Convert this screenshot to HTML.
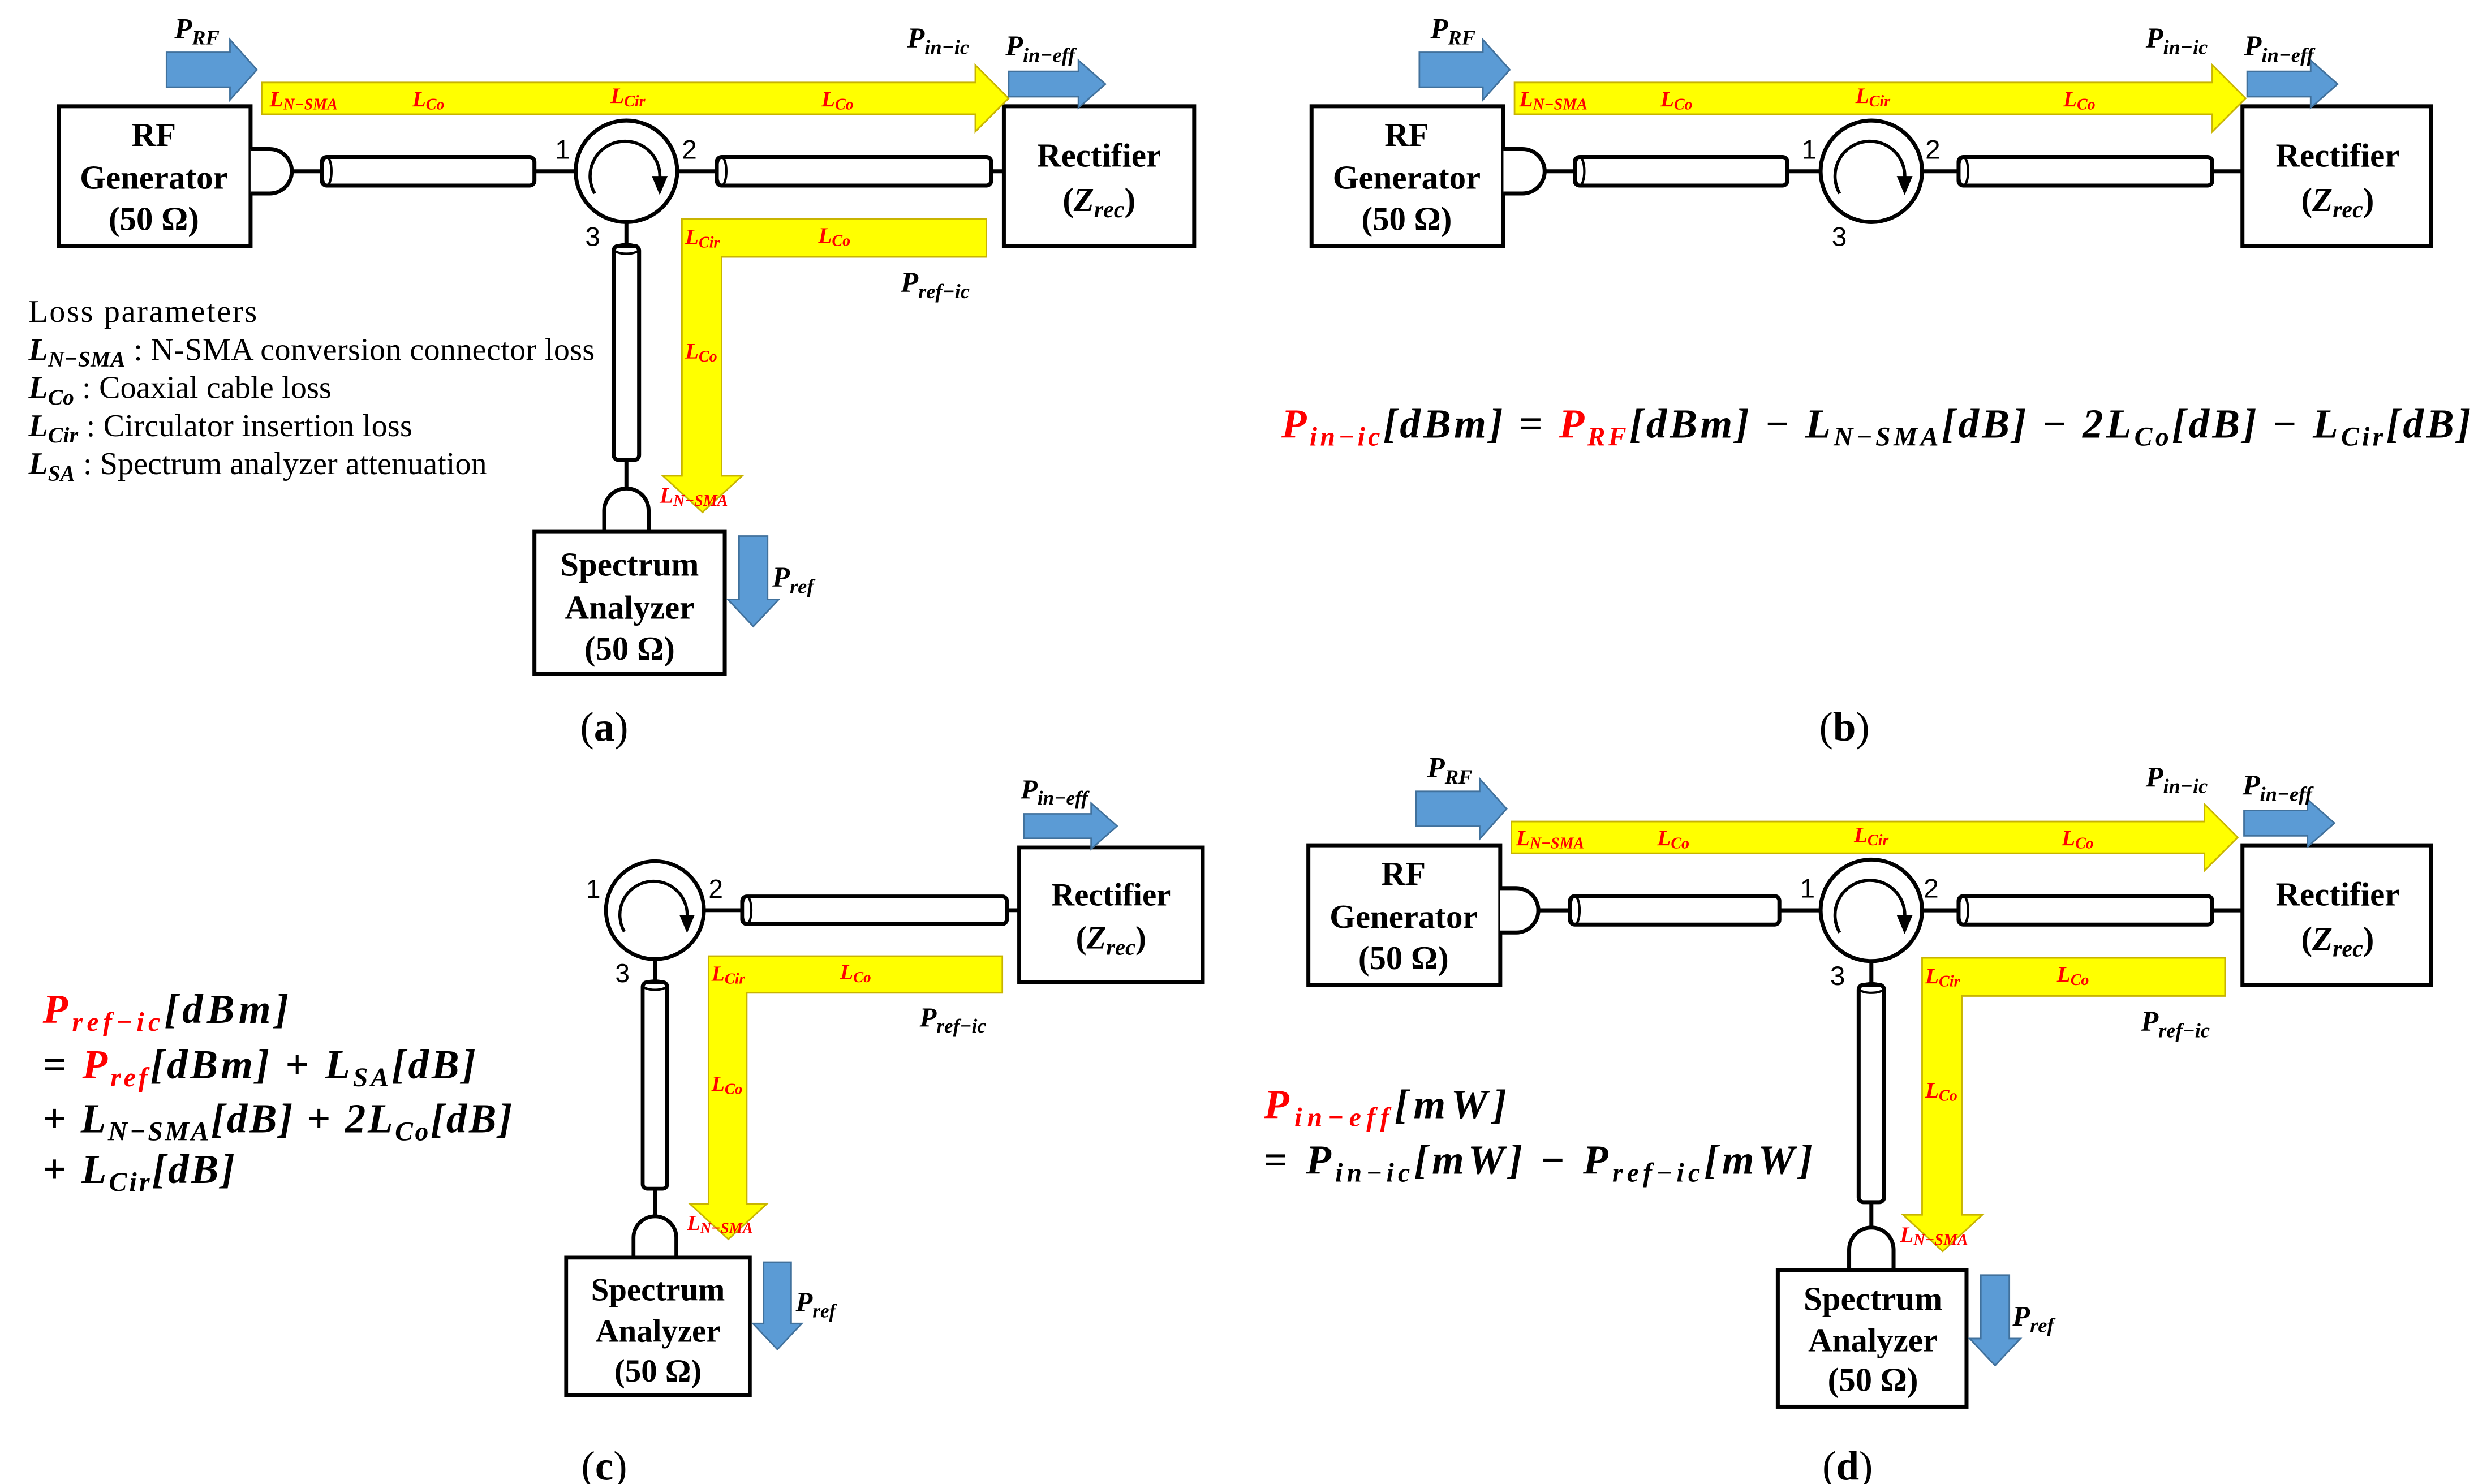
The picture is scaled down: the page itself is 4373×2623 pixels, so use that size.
<!DOCTYPE html>
<html><head><meta charset="utf-8"><style>
html,body{margin:0;padding:0;background:#fff;}
svg{display:block}
text{font-family:"Liberation Serif",serif;}
.bx{font-size:21px;font-weight:bold;text-anchor:middle}
.lb{font-size:14px;font-weight:bold;font-style:italic;fill:#ff0000}
.pl{font-size:18px;font-weight:bold;font-style:italic}
.num{font-family:"Liberation Sans",sans-serif;font-size:17px}
.eq{font-size:26px;font-weight:bold;font-style:italic}
.up{font-style:normal}
.r{fill:#ff0000}
.lp{font-size:20px}
.cap{font-size:26px;text-anchor:middle}
</style></head><body>
<svg width="4373" height="2623" viewBox="0 0 1560 935.7" xmlns="http://www.w3.org/2000/svg">
<rect x="0" y="0" width="1560" height="936" fill="#fff"/>

<!-- ================= (a) ================= -->
<g id="pa">
 <rect x="37" y="67" width="121" height="88" fill="#fff" stroke="#000" stroke-width="2.5"/>
 <text class="bx" x="97" y="92">RF</text>
 <text class="bx" x="97" y="119">Generator</text>
 <text class="bx" x="97" y="145">(50 Ω)</text>
 <path d="M158,94 h12 a14 14 0 0 1 0 28 h-12" fill="#fff" stroke="#000" stroke-width="2.5"/>
 <line x1="184" y1="108" x2="203" y2="108" stroke="#000" stroke-width="2.5"/>
 <rect x="203" y="99" width="134" height="18" rx="3" fill="#fff" stroke="#000" stroke-width="2.5"/>
 <ellipse cx="206" cy="108" rx="3" ry="9" fill="none" stroke="#000" stroke-width="1.5"/>
 <line x1="337" y1="108" x2="363" y2="108" stroke="#000" stroke-width="2.5"/>
 <circle cx="395" cy="108" r="32" fill="#fff" stroke="#000" stroke-width="2.5"/>
 <path d="M375,122 A22 22 0 1 1 416,113" fill="none" stroke="#000" stroke-width="2"/>
 <polygon points="411,111 421,111 416,123" fill="#000"/>
 <line x1="427" y1="108" x2="452" y2="108" stroke="#000" stroke-width="2.5"/>
 <rect x="452" y="99" width="173" height="18" rx="3" fill="#fff" stroke="#000" stroke-width="2.5"/>
 <ellipse cx="455" cy="108" rx="3" ry="9" fill="none" stroke="#000" stroke-width="1.5"/>
 <line x1="625" y1="108" x2="633" y2="108" stroke="#000" stroke-width="2.5"/>
 <rect x="633" y="67" width="120" height="88" fill="#fff" stroke="#000" stroke-width="2.5"/>
 <text class="bx" x="693" y="105">Rectifier</text>
 <text class="bx" x="693" y="133">(<tspan font-style="italic">Z<tspan font-size="15" dy="4">rec</tspan></tspan><tspan dy="-4">)</tspan></text>
 <text class="num" x="350" y="100">1</text>
 <text class="num" x="430" y="100">2</text>
 <text class="num" x="369" y="155">3</text>
 <line x1="395" y1="140" x2="395" y2="155" stroke="#000" stroke-width="2.5"/>
 <rect x="387" y="155" width="16" height="135" rx="3" fill="#fff" stroke="#000" stroke-width="2.5"/>
 <ellipse cx="395" cy="157" rx="8" ry="3" fill="none" stroke="#000" stroke-width="1.5"/>
 <line x1="395" y1="290" x2="395" y2="308" stroke="#000" stroke-width="2.5"/>
 <path d="M381,335 V322 a14 14 0 0 1 28 0 V335" fill="#fff" stroke="#000" stroke-width="2.5"/>
 <rect x="337" y="335" width="120" height="90" fill="#fff" stroke="#000" stroke-width="2.5"/>
 <text class="bx" x="397" y="363">Spectrum</text>
 <text class="bx" x="397" y="390">Analyzer</text>
 <text class="bx" x="397" y="416">(50 Ω)</text>
 <polygon points="165,52 615,52 615,41 636,62 615,83 615,72 165,72" fill="#ffff00" stroke="#c8b400" stroke-width="1"/>
 <polygon points="430,138 622,138 622,162 455,162 455,300 468,300 443,323 418,300 430,300" fill="#ffff00" stroke="#c8b400" stroke-width="1"/>
 <text class="lb" x="170" y="67">L<tspan font-size="10" dy="2">N−SMA</tspan></text>
 <text class="lb" x="260" y="67">L<tspan font-size="10" dy="2">Co</tspan></text>
 <text class="lb" x="385" y="65">L<tspan font-size="10" dy="2">Cir</tspan></text>
 <text class="lb" x="518" y="67">L<tspan font-size="10" dy="2">Co</tspan></text>
 <text class="lb" x="432" y="154">L<tspan font-size="10" dy="2">Cir</tspan></text>
 <text class="lb" x="516" y="153">L<tspan font-size="10" dy="2">Co</tspan></text>
 <text class="lb" x="432" y="226">L<tspan font-size="10" dy="2">Co</tspan></text>
 <text class="lb" x="416" y="317">L<tspan font-size="10" dy="2">N−SMA</tspan></text>
 <polygon points="105,33 145,33 145,25 162,44 145,63 145,55 105,55" fill="#5b9bd5" stroke="#41719c" stroke-width="1"/>
 <polygon points="636,45 680,45 680,38 697,53 680,68 680,61 636,61" fill="#5b9bd5" stroke="#41719c" stroke-width="1"/>
 <polygon points="466,338 484,338 484,378 491,378 475,395 459,378 466,378" fill="#5b9bd5" stroke="#41719c" stroke-width="1"/>
 <text class="pl" x="110" y="24">P<tspan font-size="13" dy="4">RF</tspan></text>
 <text class="pl" x="572" y="30">P<tspan font-size="13" dy="4">in−ic</tspan></text>
 <text class="pl" x="634" y="35">P<tspan font-size="13" dy="4">in−eff</tspan></text>
 <text class="pl" x="568" y="184">P<tspan font-size="13" dy="4">ref−ic</tspan></text>
 <text class="pl" x="487" y="370">P<tspan font-size="13" dy="4">ref</tspan></text>
 <text class="lp" x="18" y="203" textLength="144">Loss parameters</text>
 <text class="lp" x="18" y="227" textLength="357"><tspan font-weight="bold" font-style="italic">L<tspan font-size="14" dy="4">N−SMA</tspan></tspan><tspan dy="-4"> : N-SMA conversion connector loss</tspan></text>
 <text class="lp" x="18" y="251" textLength="191"><tspan font-weight="bold" font-style="italic">L<tspan font-size="14" dy="4">Co</tspan></tspan><tspan dy="-4"> : Coaxial cable loss</tspan></text>
 <text class="lp" x="18" y="275" textLength="242"><tspan font-weight="bold" font-style="italic">L<tspan font-size="14" dy="4">Cir</tspan></tspan><tspan dy="-4"> : Circulator insertion loss</tspan></text>
 <text class="lp" x="18" y="299" textLength="289"><tspan font-weight="bold" font-style="italic">L<tspan font-size="14" dy="4">SA</tspan></tspan><tspan dy="-4"> : Spectrum analyzer attenuation</tspan></text>
 <text class="cap" x="381" y="467">(<tspan font-weight="bold">a</tspan>)</text>
</g>

<!-- ================= (b) ================= -->
<g transform="translate(790,0)">
 <rect x="37" y="67" width="121" height="88" fill="#fff" stroke="#000" stroke-width="2.5"/>
 <text class="bx" x="97" y="92">RF</text>
 <text class="bx" x="97" y="119">Generator</text>
 <text class="bx" x="97" y="145">(50 Ω)</text>
 <path d="M158,94 h12 a14 14 0 0 1 0 28 h-12" fill="#fff" stroke="#000" stroke-width="2.5"/>
 <line x1="184" y1="108" x2="203" y2="108" stroke="#000" stroke-width="2.5"/>
 <rect x="203" y="99" width="134" height="18" rx="3" fill="#fff" stroke="#000" stroke-width="2.5"/>
 <ellipse cx="206" cy="108" rx="3" ry="9" fill="none" stroke="#000" stroke-width="1.5"/>
 <line x1="337" y1="108" x2="358" y2="108" stroke="#000" stroke-width="2.5"/>
 <circle cx="390" cy="108" r="32" fill="#fff" stroke="#000" stroke-width="2.5"/>
 <path d="M370,122 A22 22 0 1 1 411,113" fill="none" stroke="#000" stroke-width="2"/>
 <polygon points="406,111 416,111 411,123" fill="#000"/>
 <line x1="422" y1="108" x2="445" y2="108" stroke="#000" stroke-width="2.5"/>
 <rect x="445" y="99" width="160" height="18" rx="3" fill="#fff" stroke="#000" stroke-width="2.5"/>
 <ellipse cx="448" cy="108" rx="3" ry="9" fill="none" stroke="#000" stroke-width="1.5"/>
 <line x1="605" y1="108" x2="624" y2="108" stroke="#000" stroke-width="2.5"/>
 <rect x="624" y="67" width="119" height="88" fill="#fff" stroke="#000" stroke-width="2.5"/>
 <text class="bx" x="684" y="105">Rectifier</text>
 <text class="bx" x="684" y="133">(<tspan font-style="italic">Z<tspan font-size="15" dy="4">rec</tspan></tspan><tspan dy="-4">)</tspan></text>
 <text class="num" x="346" y="100">1</text>
 <text class="num" x="424" y="100">2</text>
 <text class="num" x="365" y="155">3</text>
 <polygon points="165,52 605,52 605,41 626,62 605,83 605,72 165,72" fill="#ffff00" stroke="#c8b400" stroke-width="1"/>
 <text class="lb" x="168" y="67">L<tspan font-size="10" dy="2">N−SMA</tspan></text>
 <text class="lb" x="257" y="67">L<tspan font-size="10" dy="2">Co</tspan></text>
 <text class="lb" x="380" y="65">L<tspan font-size="10" dy="2">Cir</tspan></text>
 <text class="lb" x="511" y="67">L<tspan font-size="10" dy="2">Co</tspan></text>
 <polygon points="105,33 145,33 145,25 162,44 145,63 145,55 105,55" fill="#5b9bd5" stroke="#41719c" stroke-width="1"/>
 <polygon points="627,45 667,45 667,38 684,53 667,68 667,61 627,61" fill="#5b9bd5" stroke="#41719c" stroke-width="1"/>
 <text class="pl" x="112" y="24">P<tspan font-size="13" dy="4">RF</tspan></text>
 <text class="pl" x="563" y="30">P<tspan font-size="13" dy="4">in−ic</tspan></text>
 <text class="pl" x="625" y="35">P<tspan font-size="13" dy="4">in−eff</tspan></text>
 <text class="cap" x="373" y="467">(<tspan font-weight="bold">b</tspan>)</text>
</g>
<text class="eq" x="808" y="276" textLength="750"><tspan class="r">P<tspan font-size="17" dy="5">in−ic</tspan></tspan><tspan dy="-5">[dBm] </tspan><tspan class="up">= </tspan><tspan class="r">P<tspan font-size="17" dy="5">RF</tspan></tspan><tspan dy="-5">[dBm] </tspan><tspan class="up">− </tspan>L<tspan font-size="17" dy="5">N−SMA</tspan><tspan dy="-5">[dB] </tspan><tspan class="up">− </tspan>2L<tspan font-size="17" dy="5">Co</tspan><tspan dy="-5">[dB] </tspan><tspan class="up">− </tspan>L<tspan font-size="17" dy="5">Cir</tspan><tspan dy="-5">[dB]</tspan></text>

<!-- ================= (c) ================= -->
<g transform="translate(31.8,469.7) scale(0.965)">
 <circle cx="395" cy="108" r="32" fill="#fff" stroke="#000" stroke-width="2.5"/>
 <path d="M375,122 A22 22 0 1 1 416,113" fill="none" stroke="#000" stroke-width="2"/>
 <polygon points="411,111 421,111 416,123" fill="#000"/>
 <line x1="427" y1="108" x2="452" y2="108" stroke="#000" stroke-width="2.5"/>
 <rect x="452" y="99" width="173" height="18" rx="3" fill="#fff" stroke="#000" stroke-width="2.5"/>
 <ellipse cx="455" cy="108" rx="3" ry="9" fill="none" stroke="#000" stroke-width="1.5"/>
 <line x1="625" y1="108" x2="633" y2="108" stroke="#000" stroke-width="2.5"/>
 <rect x="633" y="67" width="120" height="88" fill="#fff" stroke="#000" stroke-width="2.5"/>
 <text class="bx" x="693" y="105">Rectifier</text>
 <text class="bx" x="693" y="133">(<tspan font-style="italic">Z<tspan font-size="15" dy="4">rec</tspan></tspan><tspan dy="-4">)</tspan></text>
 <text class="num" x="350" y="100">1</text>
 <text class="num" x="430" y="100">2</text>
 <text class="num" x="369" y="155">3</text>
 <line x1="395" y1="140" x2="395" y2="155" stroke="#000" stroke-width="2.5"/>
 <rect x="387" y="155" width="16" height="135" rx="3" fill="#fff" stroke="#000" stroke-width="2.5"/>
 <ellipse cx="395" cy="157" rx="8" ry="3" fill="none" stroke="#000" stroke-width="1.5"/>
 <line x1="395" y1="290" x2="395" y2="308" stroke="#000" stroke-width="2.5"/>
 <path d="M381,335 V322 a14 14 0 0 1 28 0 V335" fill="#fff" stroke="#000" stroke-width="2.5"/>
 <rect x="337" y="335" width="120" height="90" fill="#fff" stroke="#000" stroke-width="2.5"/>
 <text class="bx" x="397" y="363">Spectrum</text>
 <text class="bx" x="397" y="390">Analyzer</text>
 <text class="bx" x="397" y="416">(50 Ω)</text>
 <polygon points="430,138 622,138 622,162 455,162 455,300 468,300 443,323 418,300 430,300" fill="#ffff00" stroke="#c8b400" stroke-width="1"/>
 <text class="lb" x="432" y="154">L<tspan font-size="10" dy="2">Cir</tspan></text>
 <text class="lb" x="516" y="153">L<tspan font-size="10" dy="2">Co</tspan></text>
 <text class="lb" x="432" y="226">L<tspan font-size="10" dy="2">Co</tspan></text>
 <text class="lb" x="416" y="317">L<tspan font-size="10" dy="2">N−SMA</tspan></text>
 <polygon points="636,45 680,45 680,38 697,53 680,68 680,61 636,61" fill="#5b9bd5" stroke="#41719c" stroke-width="1"/>
 <polygon points="466,338 484,338 484,378 491,378 475,395 459,378 466,378" fill="#5b9bd5" stroke="#41719c" stroke-width="1"/>
 <text class="pl" x="634" y="35">P<tspan font-size="13" dy="4">in−eff</tspan></text>
 <text class="pl" x="568" y="184">P<tspan font-size="13" dy="4">ref−ic</tspan></text>
 <text class="pl" x="487" y="370">P<tspan font-size="13" dy="4">ref</tspan></text>
</g>
<text class="eq" x="27" y="645" textLength="155"><tspan class="r">P<tspan font-size="17" dy="5">ref−ic</tspan></tspan><tspan dy="-5">[dBm]</tspan></text>
<text class="eq" x="27" y="680" textLength="273"><tspan class="up">= </tspan><tspan class="r">P<tspan font-size="17" dy="5">ref</tspan></tspan><tspan dy="-5">[dBm] </tspan><tspan class="up">+ </tspan>L<tspan font-size="17" dy="5">SA</tspan><tspan dy="-5">[dB]</tspan></text>
<text class="eq" x="27" y="714" textLength="296"><tspan class="up">+ </tspan>L<tspan font-size="17" dy="5">N−SMA</tspan><tspan dy="-5">[dB] </tspan><tspan class="up">+ </tspan>2L<tspan font-size="17" dy="5">Co</tspan><tspan dy="-5">[dB]</tspan></text>
<text class="eq" x="27" y="746" textLength="121"><tspan class="up">+ </tspan>L<tspan font-size="17" dy="5">Cir</tspan><tspan dy="-5">[dB]</tspan></text>
<text class="cap" x="381" y="933">(<tspan font-weight="bold">c</tspan>)</text>

<!-- ================= (d) ================= -->
<g transform="translate(785,466)">
 <rect x="40" y="67" width="121" height="88" fill="#fff" stroke="#000" stroke-width="2.5"/>
 <text class="bx" x="100" y="92">RF</text>
 <text class="bx" x="100" y="119">Generator</text>
 <text class="bx" x="100" y="145">(50 Ω)</text>
 <path d="M161,94 h10 a14 14 0 0 1 0 28 h-10" fill="#fff" stroke="#000" stroke-width="2.5"/>
 <line x1="185" y1="108" x2="205" y2="108" stroke="#000" stroke-width="2.5"/>
 <rect x="205" y="99" width="132" height="18" rx="3" fill="#fff" stroke="#000" stroke-width="2.5"/>
 <ellipse cx="208" cy="108" rx="3" ry="9" fill="none" stroke="#000" stroke-width="1.5"/>
 <line x1="337" y1="108" x2="363" y2="108" stroke="#000" stroke-width="2.5"/>
 <circle cx="395" cy="108" r="32" fill="#fff" stroke="#000" stroke-width="2.5"/>
 <path d="M375,122 A22 22 0 1 1 416,113" fill="none" stroke="#000" stroke-width="2"/>
 <polygon points="411,111 421,111 416,123" fill="#000"/>
 <line x1="427" y1="108" x2="450" y2="108" stroke="#000" stroke-width="2.5"/>
 <rect x="450" y="99" width="160" height="18" rx="3" fill="#fff" stroke="#000" stroke-width="2.5"/>
 <ellipse cx="453" cy="108" rx="3" ry="9" fill="none" stroke="#000" stroke-width="1.5"/>
 <line x1="610" y1="108" x2="629" y2="108" stroke="#000" stroke-width="2.5"/>
 <rect x="629" y="67" width="119" height="88" fill="#fff" stroke="#000" stroke-width="2.5"/>
 <text class="bx" x="689" y="105">Rectifier</text>
 <text class="bx" x="689" y="133">(<tspan font-style="italic">Z<tspan font-size="15" dy="4">rec</tspan></tspan><tspan dy="-4">)</tspan></text>
 <text class="num" x="350" y="100">1</text>
 <text class="num" x="428" y="100">2</text>
 <text class="num" x="369" y="155">3</text>
 <line x1="395" y1="140" x2="395" y2="155" stroke="#000" stroke-width="2.5"/>
 <rect x="387" y="155" width="16" height="137" rx="3" fill="#fff" stroke="#000" stroke-width="2.5"/>
 <ellipse cx="395" cy="157" rx="8" ry="3" fill="none" stroke="#000" stroke-width="1.5"/>
 <line x1="395" y1="292" x2="395" y2="308" stroke="#000" stroke-width="2.5"/>
 <path d="M381,335 V322 a14 14 0 0 1 28 0 V335" fill="#fff" stroke="#000" stroke-width="2.5"/>
 <rect x="336" y="335" width="119" height="86" fill="#fff" stroke="#000" stroke-width="2.5"/>
 <text class="bx" x="396" y="360">Spectrum</text>
 <text class="bx" x="396" y="386">Analyzer</text>
 <text class="bx" x="396" y="411">(50 Ω)</text>
 <polygon points="168,52 605,52 605,41 626,62 605,83 605,72 168,72" fill="#ffff00" stroke="#c8b400" stroke-width="1"/>
 <polygon points="427,138 618,138 618,162 452,162 452,300 465,300 440,323 415,300 427,300" fill="#ffff00" stroke="#c8b400" stroke-width="1"/>
 <text class="lb" x="171" y="67">L<tspan font-size="10" dy="2">N−SMA</tspan></text>
 <text class="lb" x="260" y="67">L<tspan font-size="10" dy="2">Co</tspan></text>
 <text class="lb" x="384" y="65">L<tspan font-size="10" dy="2">Cir</tspan></text>
 <text class="lb" x="515" y="67">L<tspan font-size="10" dy="2">Co</tspan></text>
 <text class="lb" x="429" y="154">L<tspan font-size="10" dy="2">Cir</tspan></text>
 <text class="lb" x="512" y="153">L<tspan font-size="10" dy="2">Co</tspan></text>
 <text class="lb" x="429" y="226">L<tspan font-size="10" dy="2">Co</tspan></text>
 <text class="lb" x="413" y="317">L<tspan font-size="10" dy="2">N−SMA</tspan></text>
 <polygon points="108,33 148,33 148,25 165,44 148,63 148,55 108,55" fill="#5b9bd5" stroke="#41719c" stroke-width="1"/>
 <polygon points="630,45 670,45 670,38 687,53 670,68 670,61 630,61" fill="#5b9bd5" stroke="#41719c" stroke-width="1"/>
 <polygon points="464,338 482,338 482,378 489,378 473,395 457,378 464,378" fill="#5b9bd5" stroke="#41719c" stroke-width="1"/>
 <text class="pl" x="115" y="24">P<tspan font-size="13" dy="4">RF</tspan></text>
 <text class="pl" x="568" y="30">P<tspan font-size="13" dy="4">in−ic</tspan></text>
 <text class="pl" x="629" y="35">P<tspan font-size="13" dy="4">in−eff</tspan></text>
 <text class="pl" x="565" y="184">P<tspan font-size="13" dy="4">ref−ic</tspan></text>
 <text class="pl" x="484" y="370">P<tspan font-size="13" dy="4">ref</tspan></text>
</g>
<text class="eq" x="797" y="705" textLength="153"><tspan class="r">P<tspan font-size="17" dy="5">in−eff</tspan></tspan><tspan dy="-5">[mW]</tspan></text>
<text class="eq" x="797" y="740" textLength="346"><tspan class="up">= </tspan>P<tspan font-size="17" dy="5">in−ic</tspan><tspan dy="-5">[mW] </tspan><tspan class="up">− </tspan>P<tspan font-size="17" dy="5">ref−ic</tspan><tspan dy="-5">[mW]</tspan></text>
<text class="cap" x="1165" y="933">(<tspan font-weight="bold">d</tspan>)</text>
</svg>
</body></html>
